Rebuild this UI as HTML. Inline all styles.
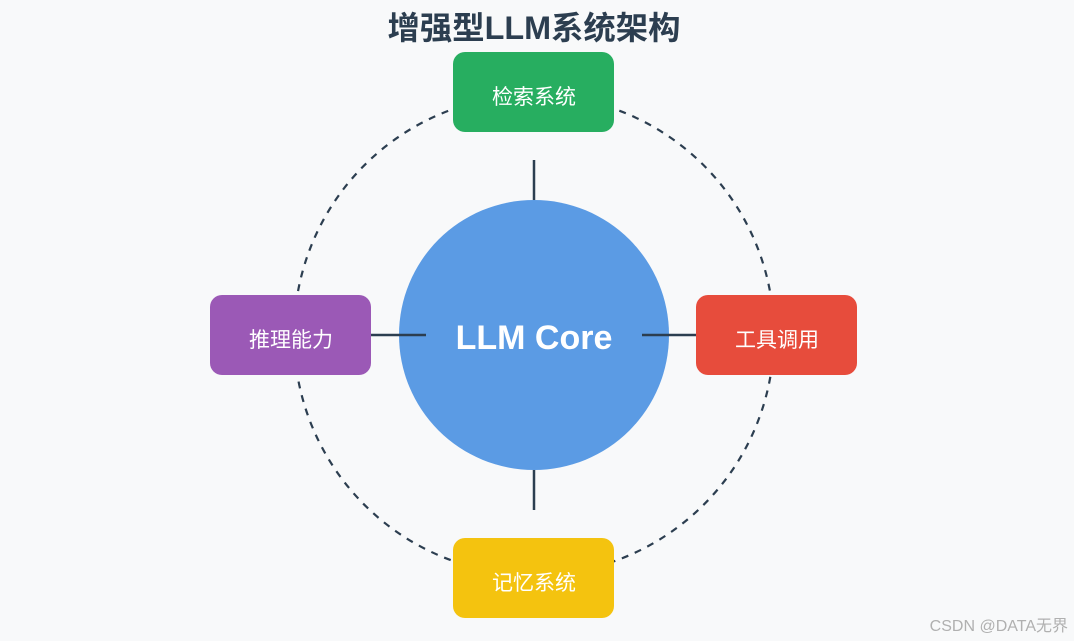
<!DOCTYPE html>
<html><head><meta charset="utf-8"><style>
body{margin:0;background:#f8f9fa;}
svg{display:block}
text{font-family:"Liberation Sans","Noto Sans CJK SC",sans-serif;}
</style></head><body>
<svg width="1074" height="641" viewBox="0 0 1074 641">
<rect width="1074" height="641" fill="#f8f9fa"/>
<text x="534" y="39" text-anchor="middle" font-size="32" font-weight="bold" fill="#2c3e50" textLength="293" lengthAdjust="spacingAndGlyphs">增强型LLM系统架构</text>
<circle cx="534" cy="335" r="240" fill="none" stroke="#2c3e50" stroke-width="2.2" stroke-dasharray="7,7"/>
<circle cx="534" cy="335" r="135" fill="#5b9be4"/>
<g stroke="#2c3e50" stroke-width="2.5">
<line x1="534" y1="160" x2="534" y2="200"/>
<line x1="534" y1="470" x2="534" y2="510"/>
<line x1="371" y1="335" x2="426" y2="335"/>
<line x1="642" y1="335" x2="696" y2="335"/>
</g>
<text x="534" y="349" text-anchor="middle" font-size="34" font-weight="bold" fill="#fff">LLM Core</text>
<rect x="453" y="52" width="161" height="80" rx="12" fill="#27ae60"/>
<text x="534" y="104" text-anchor="middle" font-size="21" fill="#fff">检索系统</text>
<rect x="210" y="295" width="161" height="80" rx="12" fill="#9b59b6"/>
<text x="291" y="347" text-anchor="middle" font-size="21" fill="#fff">推理能力</text>
<rect x="696" y="295" width="161" height="80" rx="12" fill="#e74c3c"/>
<text x="777" y="347" text-anchor="middle" font-size="21" fill="#fff">工具调用</text>
<rect x="453" y="538" width="161" height="80" rx="12" fill="#f4c30f"/>
<text x="534" y="590" text-anchor="middle" font-size="21" fill="#fff">记忆系统</text>
<text x="1068" y="631" text-anchor="end" font-size="16" fill="#b0b0b0">CSDN @DATA无界</text>
</svg>
</body></html>
